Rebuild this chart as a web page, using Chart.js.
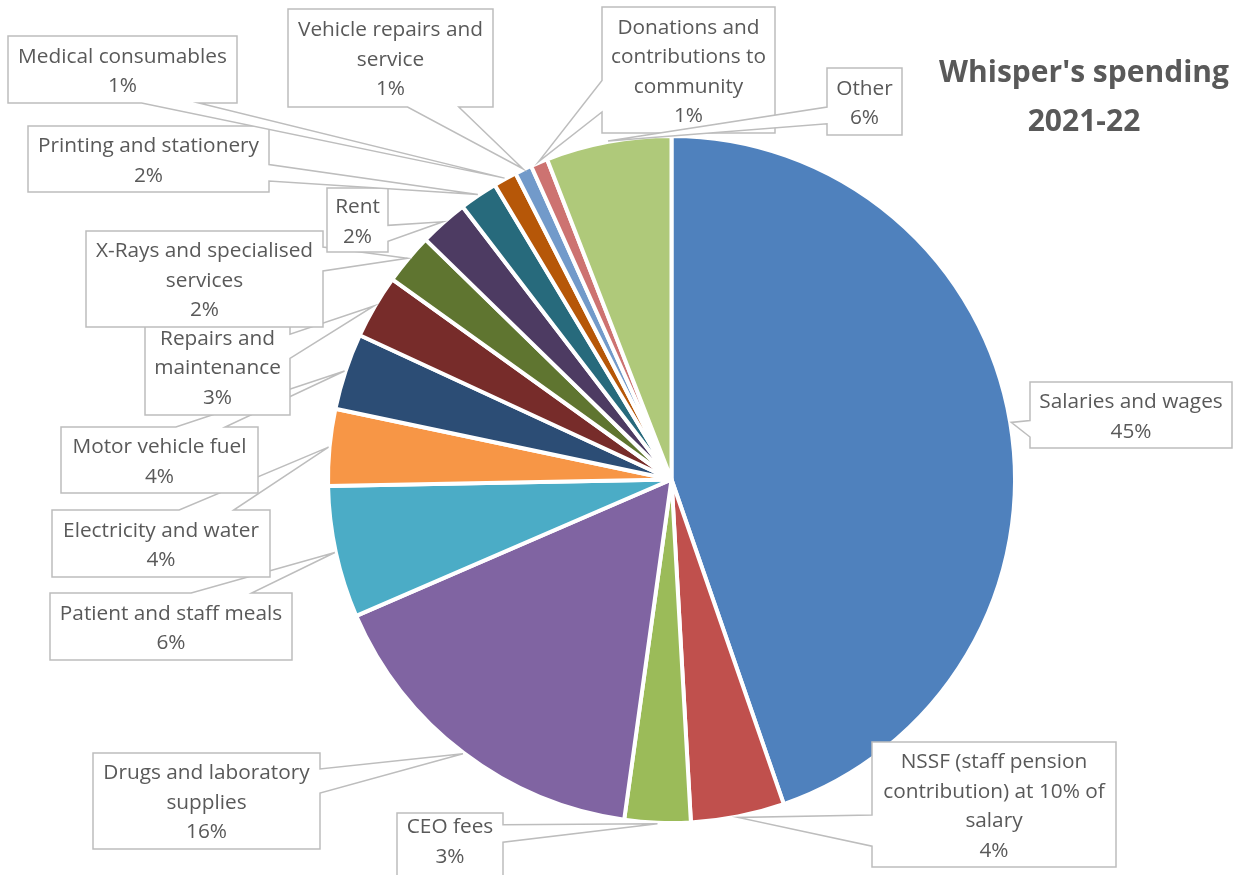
<!DOCTYPE html>
<html>
<head>
<meta charset="utf-8">
<script src="https://cdn.jsdelivr.net/npm/chart.js@4.4.0/dist/chart.umd.min.js"></script>
<style>
  html, body { margin: 0; padding: 0; background: #fff; }
  #wrap { position: relative; width: 1243px; height: 875px; }
</style>
</head>
<body>
<div id="wrap"><canvas id="spending-chart"></canvas></div>
<script>
const categories = [
    ['Salaries and wages'],
    ['NSSF (staff pension', 'contribution) at 10% of', 'salary'],
    ['CEO fees'],
    ['Drugs and laboratory', 'supplies'],
    ['Patient and staff meals'],
    ['Electricity and water'],
    ['Motor vehicle fuel'],
    ['Repairs and', 'maintenance'],
    ['X-Rays and specialised', 'services'],
    ['Rent'],
    ['Printing and stationery'],
    ['Medical consumables'],
    ['Vehicle repairs and', 'service'],
    ['Donations and', 'contributions to', 'community'],
    ['Other'],
];
// share of spending, percent
const shares = [44.7, 4.4, 3.1, 16.3, 6.2, 3.6, 3.6, 3.0, 2.4, 2.3, 1.8, 1.1, 0.8, 0.8, 5.9];
const sliceColors = [
    '#4F81BD', '#C0504D', '#9BBB59', '#8064A2', '#4BACC6', '#F79646', '#2C4D75', '#772C2A',
    '#5F7530', '#4D3B62', '#276A7C', '#B65708', '#729ACA', '#CD7371', '#AFC97A',
];
const chartTitle = ["Whisper's spending", '2021-22'];

// where each callout box sits, and which side its pointer leaves from
const calloutBoxes = [
    { x: 1030, y: 382, w: 202, h: 66, side: 'l' },
    { x: 872, y: 742, w: 244, h: 125, side: 'l' },
    { x: 397, y: 813, w: 106, h: 70, side: 'r', ty: 842 },
    { x: 93, y: 753, w: 227, h: 96, side: 'r' },
    { x: 50, y: 593, w: 242, h: 67, side: 't' },
    { x: 52, y: 510, w: 218, h: 67, side: 't' },
    { x: 61, y: 427, w: 197, h: 66, side: 't' },
    { x: 145, y: 318, w: 145, h: 97, side: 'r' },
    { x: 86, y: 231, w: 237, h: 96, side: 'r' },
    { x: 327, y: 188, w: 61, h: 64, side: 'r' },
    { x: 28, y: 126, w: 241, h: 66, side: 'r' },
    { x: 8, y: 36, w: 229, h: 67, side: 'b' },
    { x: 288, y: 9, w: 205, h: 98, side: 'b' },
    { x: 602, y: 7, w: 173, h: 126, side: 'l' },
    { x: 827, y: 68, w: 75, h: 67, side: 'l' },
];

const TEXT_COLOR = '#595959';
const LABEL_FONT = '20.8px "Open Sans"';
const LINE_H = 29.5;

// rectangle with a wedge pointer, like the office "wedgeRectCallout" shape
const calloutPath = (ctx, b, tx, ty) => {
    const l = b.x, t = b.y, r = b.x + b.w, btm = b.y + b.h;
    const dx = tx - (l + b.w / 2);
    const dy = ty - (t + b.h / 2);
    const x1 = l + b.w * (dx > 0 ? 7 : 2) / 12;
    const x2 = l + b.w * (dx > 0 ? 10 : 5) / 12;
    const y1 = t + b.h * (dy > 0 ? 7 : 2) / 12;
    const y2 = t + b.h * (dy > 0 ? 10 : 5) / 12;
    ctx.beginPath();
    ctx.moveTo(l, t);
    if (b.side === 't') { ctx.lineTo(x1, t); ctx.lineTo(tx, ty); ctx.lineTo(x2, t); }
    ctx.lineTo(r, t);
    if (b.side === 'r') { ctx.lineTo(r, y1); ctx.lineTo(tx, ty); ctx.lineTo(r, y2); }
    ctx.lineTo(r, btm);
    if (b.side === 'b') { ctx.lineTo(x2, btm); ctx.lineTo(tx, ty); ctx.lineTo(x1, btm); }
    ctx.lineTo(l, btm);
    if (b.side === 'l') { ctx.lineTo(l, y2); ctx.lineTo(tx, ty); ctx.lineTo(l, y1); }
    ctx.closePath();
};

const calloutPlugin = {
    id: 'callouts',
    afterDatasetsDraw(chart) {
        const ctx = chart.ctx;
        const ds = chart.data.datasets[0];
        const total = ds.data.reduce((a, b) => a + b, 0);
        const arcs = chart.getDatasetMeta(0).data;
        ctx.save();
        arcs.forEach((arc, i) => {
            const b = calloutBoxes[i];
            if (!b) return;
            const { x, y, startAngle, endAngle, outerRadius } = arc.getProps(['x', 'y', 'startAngle', 'endAngle', 'outerRadius'], true);
            const mid = (startAngle + endAngle) / 2;
            const tx = x + Math.cos(mid) * (outerRadius + 1);
            const ty = y + Math.sin(mid) * (outerRadius + 1);
            calloutPath(ctx, b, tx, ty);
            ctx.fillStyle = '#ffffff';
            ctx.fill();
            ctx.lineWidth = 1.5;
            ctx.strokeStyle = '#BDBDBD';
            ctx.stroke();

            const lines = [...chart.data.labels[i], Math.round(ds.data[i] / total * 100) + '%'];
            const cy = b.ty !== undefined ? b.ty : b.y + b.h / 2 + 2;
            const y0 = cy - (lines.length - 1) * LINE_H / 2;
            ctx.fillStyle = TEXT_COLOR;
            ctx.font = LABEL_FONT;
            ctx.textAlign = 'center';
            ctx.textBaseline = 'middle';
            lines.forEach((ln, k) => ctx.fillText(ln, b.x + b.w / 2, y0 + k * LINE_H));
        });

        ctx.font = 'bold 30px "Open Sans"';
        ctx.fillStyle = TEXT_COLOR;
        ctx.textAlign = 'center';
        ctx.textBaseline = 'middle';
        ctx.fillText(chartTitle[0], 1084, 73);
        ctx.fillText(chartTitle[1], 1084, 122);
        ctx.restore();
    },
};

const chartEl = document.getElementById('spending-chart');
new Chart(chartEl.getContext('2d'), {
    type: 'pie',
    data: {
        labels: categories,
        datasets: [{
            data: shares,
            backgroundColor: sliceColors,
            borderColor: '#ffffff',
            borderWidth: 4,
            hoverOffset: 0,
        }],
    },
    options: {
        responsive: true,
        maintainAspectRatio: false,
        animation: false,
        rotation: 0,
        layout: { padding: { left: 326, right: 226, top: 134, bottom: 50 } },
        plugins: {
            legend: { display: false },
            tooltip: { enabled: false },
            title: { display: false },
        },
    },
    plugins: [calloutPlugin],
});
</script>
</body>
</html>
